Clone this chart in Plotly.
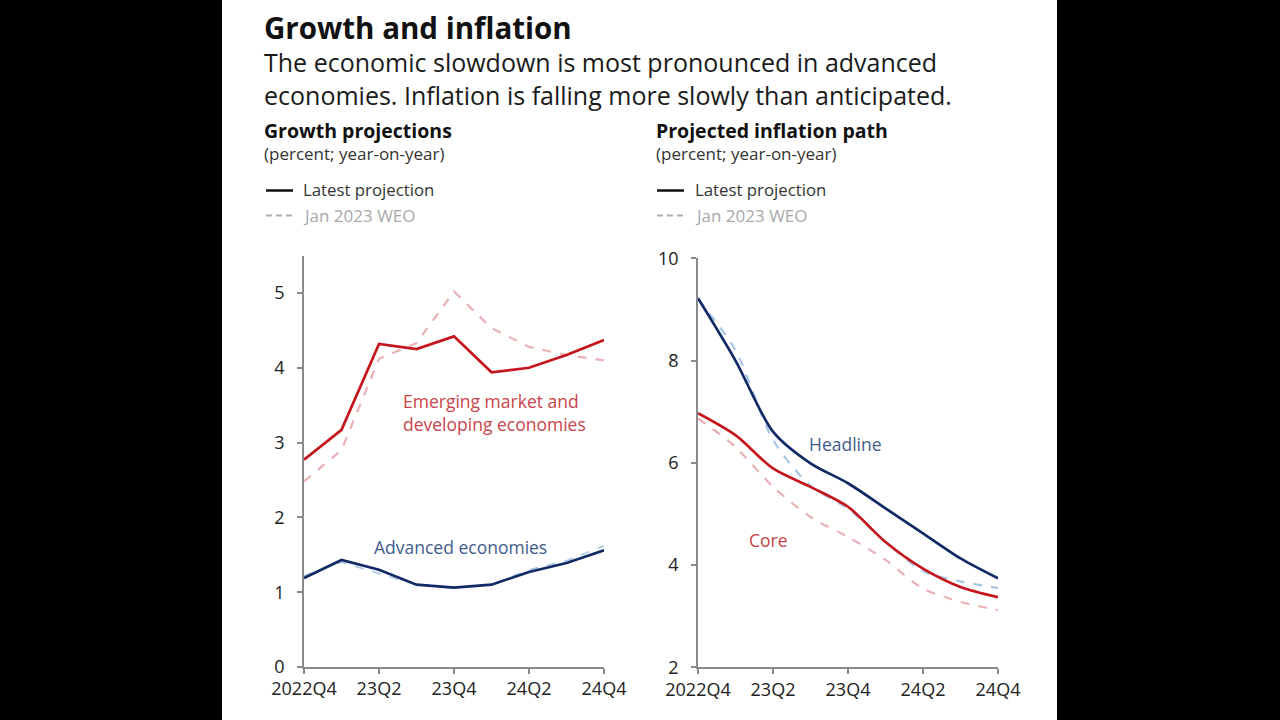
import plotly.graph_objects as go

W, H = 1280, 720

quarters = ["2022Q4", "23Q1", "23Q2", "23Q3", "23Q4", "24Q1", "24Q2", "24Q3", "24Q4"]
xi = list(range(len(quarters)))
tick_idx = [0, 2, 4, 6, 8]
tick_text = ["2022Q4", "23Q2", "23Q4", "24Q2", "24Q4"]

# Growth projections (percent; y/y)
em_latest = [2.77, 3.17, 4.32, 4.25, 4.42, 3.94, 4.00, 4.17, 4.37]
em_jan = [2.48, 2.90, 4.12, 4.33, 5.02, 4.53, 4.28, 4.17, 4.10]
ae_latest = [1.19, 1.43, 1.30, 1.10, 1.06, 1.10, 1.27, 1.39, 1.56]
ae_jan = [1.22, 1.40, 1.25, 1.10, 1.06, 1.10, 1.30, 1.42, 1.62]

# Projected inflation path (percent; y/y)
head_latest = [9.22, 8.00, 6.61, 5.99, 5.60, 5.11, 4.62, 4.13, 3.74]
head_jan = [9.20, 8.20, 6.45, 5.55, 5.10, 4.45, 3.88, 3.68, 3.55]
core_latest = [6.97, 6.54, 5.89, 5.53, 5.14, 4.45, 3.93, 3.57, 3.37]
core_jan = [6.87, 6.31, 5.53, 4.94, 4.55, 4.10, 3.54, 3.28, 3.12]

growth_yticks = [0, 1, 2, 3, 4, 5]
infl_yticks = [2, 4, 6, 8, 10]

NAVY = "#112a66"
RED = "#c4161c"
PINK = "#e9b1b4"
LIGHTBLUE = "#a8c6e6"
FONT = "Open Sans"


def px(x):
    return x / W


def py(y):
    return 1 - y / H


fig = go.Figure()

# Left panel: growth (linear segments)
fig.add_trace(go.Scatter(x=xi, y=em_jan, mode="lines", line=dict(color=PINK, width=2.2, dash="dash"), xaxis="x", yaxis="y"))
fig.add_trace(go.Scatter(x=xi, y=ae_jan, mode="lines", line=dict(color=LIGHTBLUE, width=1.6, dash="dash"), xaxis="x", yaxis="y"))
fig.add_trace(go.Scatter(x=xi, y=em_latest, mode="lines", line=dict(color=RED, width=2.7), xaxis="x", yaxis="y"))
fig.add_trace(go.Scatter(x=xi, y=ae_latest, mode="lines", line=dict(color=NAVY, width=2.7), xaxis="x", yaxis="y"))

# Right panel: inflation (smooth)
fig.add_trace(go.Scatter(x=xi, y=core_jan, mode="lines", line=dict(color=PINK, width=2.2, dash="dash", shape="spline", smoothing=0.8), xaxis="x2", yaxis="y2"))
fig.add_trace(go.Scatter(x=xi, y=head_jan, mode="lines", line=dict(color=LIGHTBLUE, width=2.2, dash="dash", shape="spline", smoothing=0.8), xaxis="x2", yaxis="y2"))
fig.add_trace(go.Scatter(x=xi, y=core_latest, mode="lines", line=dict(color=RED, width=2.7, shape="spline", smoothing=0.8), xaxis="x2", yaxis="y2"))
fig.add_trace(go.Scatter(x=xi, y=head_latest, mode="lines", line=dict(color=NAVY, width=2.7, shape="spline", smoothing=0.8), xaxis="x2", yaxis="y2"))

axis_common = dict(
    showgrid=False, zeroline=False, showline=True, linecolor="#8a8a8a", linewidth=1.5,
    ticks="outside", ticklen=5, tickwidth=1.5, tickcolor="#8a8a8a", automargin=False,
    tickfont=dict(family=FONT, size=18, color="#222222"),
)
yaxis_extra = dict(ticklabelstandoff=9)

fig.update_layout(
    width=W, height=H,
    margin=dict(l=0, r=0, t=0, b=0, pad=0, autoexpand=False),
    paper_bgcolor="black", plot_bgcolor="white",
    showlegend=False,
    xaxis=dict(domain=[px(304), px(604)], range=[0, 8], tickvals=tick_idx, ticktext=tick_text, anchor="y", **axis_common),
    yaxis=dict(domain=[py(667), py(255.6)], range=[0, 5.5], tickvals=growth_yticks, anchor="x", **axis_common, **yaxis_extra),
    xaxis2=dict(domain=[px(698), px(998)], range=[0, 8], tickvals=tick_idx, ticktext=tick_text, anchor="y2", **axis_common),
    yaxis2=dict(domain=[py(667.3), py(258.3)], range=[2, 10], tickvals=infl_yticks, anchor="x2", **axis_common, **yaxis_extra),
)

shapes = [
    dict(type="rect", xref="paper", yref="paper", x0=px(222), x1=px(1057), y0=0, y1=1,
         fillcolor="white", line=dict(width=0), layer="below"),
]
# legend samples
for lx in (266, 657):
    shapes.append(dict(type="line", xref="paper", yref="paper", x0=px(lx), x1=px(lx + 27), y0=py(190.5), y1=py(190.5),
                       line=dict(color="#111111", width=2.5)))
    shapes.append(dict(type="line", xref="paper", yref="paper", x0=px(lx), x1=px(lx + 27), y0=py(215.5), y1=py(215.5),
                       line=dict(color="#b0b0b0", width=1.8, dash="6px,4px")))
fig.update_layout(shapes=shapes)

ann = []


def text(x, y, s, size, color="#111111", bold=False, xanchor="left", yanchor="middle"):
    ann.append(dict(xref="paper", yref="paper", x=px(x), y=py(y), text=(f"<b>{s}</b>" if bold else s),
                    showarrow=False, xanchor=xanchor, yanchor=yanchor, align="left",
                    font=dict(family=FONT, size=size, color=color)))


text(262, 28, "Growth and inflation", 29.5, "#111111", bold=True)
text(262, 78, "The economic slowdown is most pronounced in advanced<br>"
              "economies. Inflation is falling more slowly than anticipated.", 25, "#1a1a1a")

for (x0, ttl) in ((262, "Growth projections"), (654, "Projected inflation path")):
    text(x0, 130, ttl, 19.5, "#111111", bold=True)
    text(x0, 153, "(percent; year-on-year)", 17, "#333333")
    text(x0 + 39, 190, "Latest projection", 16.8, "#333333")
    text(x0 + 39, 215, "Jan 2023 WEO", 17, "#a8a8a8")

text(401, 412, "Emerging market and<br>developing economies", 17.5, "#c9444a")
text(372, 547, "Advanced economies", 17.5, "#3f5c8c")
text(807, 444, "Headline", 17.5, "#3f5c8c")
text(747, 540, "Core", 17.5, "#c9444a")

fig.update_layout(annotations=ann)

fig.write_html("out.html")
